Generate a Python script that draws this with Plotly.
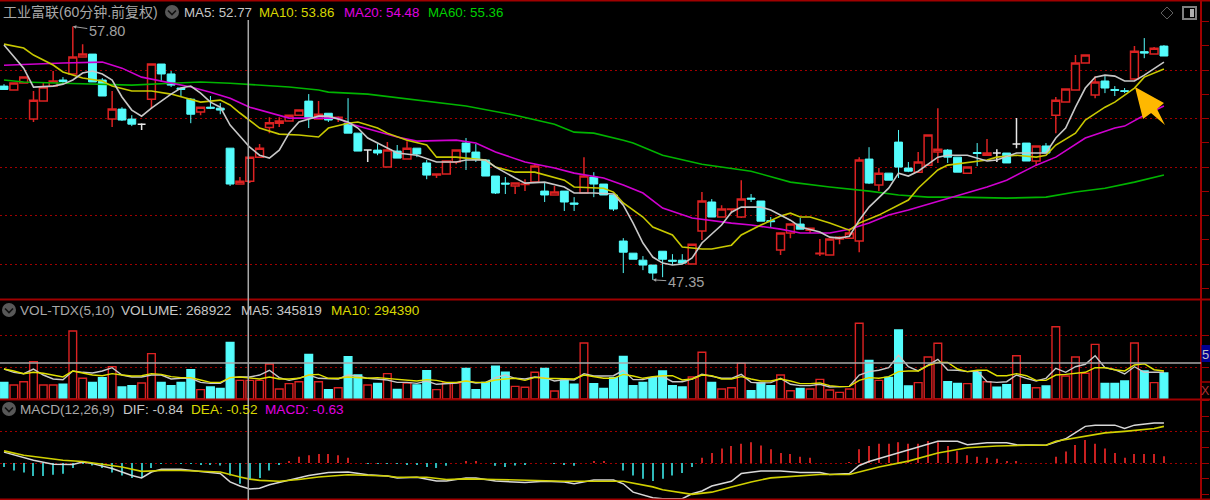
import plotly.graph_objects as go

# ---------- candles (bar index = position in list) ----------
opens = [55.34,55.18,55.47,53.98,54.72,55.34,55.59,55.84,56.54,56.66,
         55.59,53.98,54.39,53.98,53.77,54.80,56.25,55.84,55.26,54.80,
         54.27,54.47,54.43,52.78,51.30,51.42,52.41,53.63,53.81,53.90,
         54.14,54.72,53.98,54.22,54.02,53.81,53.40,52.70,52.70,52.00,
         52.66,52.33,52.78,52.17,51.67,51.71,52.21,52.99,52.62,52.29,
         51.63,51.34,51.22,51.28,51.38,51.01,50.85,51.01,50.52,50.93,
         51.59,51.30,50.85,48.95,48.45,48.16,47.96,48.53,48.16,48.16,
         48.00,49.36,50.56,49.94,50.25,49.94,50.72,50.60,49.79,48.58,
         49.28,49.65,49.40,48.43,48.37,49.03,49.07,48.95,52.33,51.26,
         51.75,53.03,51.96,51.79,52.08,52.62,52.70,52.41,51.75,52.60,
         52.49,52.58,52.58,52.95,52.99,52.25,52.87,54.14,54.68,55.18,
         56.29,54.97,55.55,55.20,55.15,55.63,56.76,56.66,56.99]
highs = [55.42,55.47,55.71,55.14,55.51,55.96,55.71,57.80,57.07,56.66,
         55.67,55.14,54.47,54.14,53.81,56.25,56.25,55.96,55.26,54.84,
         54.47,54.93,54.64,52.78,51.59,52.41,52.95,54.06,54.06,54.14,
         54.35,55.01,54.72,54.22,54.10,54.84,53.40,52.70,52.95,53.03,
         52.91,53.07,52.78,52.29,51.71,52.25,52.70,53.20,52.95,52.29,
         51.63,51.59,51.34,51.50,52.12,51.34,51.22,51.01,50.76,52.41,
         51.79,51.30,50.85,49.07,48.45,48.33,47.96,48.53,48.41,48.41,
         48.82,50.97,50.68,50.43,50.27,51.46,50.89,50.60,49.94,49.28,
         49.65,49.90,49.48,49.03,49.03,49.15,49.44,52.41,52.82,51.96,
         51.75,53.53,52.21,52.62,53.32,54.43,52.74,52.41,52.00,52.99,
         53.16,52.74,52.58,54.02,52.99,52.87,52.99,54.89,55.22,56.62,
         56.62,55.75,55.75,55.34,55.26,56.99,57.32,56.95,57.03]
lows = [55.18,55.18,55.47,53.86,54.72,55.34,55.42,55.84,56.54,55.51,
        54.93,53.65,53.90,53.69,53.53,54.39,55.51,55.30,54.89,53.81,
        54.14,54.39,54.18,51.22,51.30,51.34,52.41,53.40,53.65,53.90,
        54.14,53.61,53.98,53.86,53.86,53.40,52.66,52.21,52.49,52.00,
        52.37,52.33,52.41,51.50,51.55,51.71,52.12,51.88,52.21,51.63,
        50.89,50.89,50.89,51.01,51.38,50.56,50.85,50.19,50.19,50.93,
        50.76,50.85,50.19,47.63,48.20,47.75,47.35,47.46,47.96,48.00,
        48.00,48.99,49.94,49.94,50.10,49.90,50.56,49.77,49.53,48.37,
        49.07,49.44,49.28,48.33,48.37,48.82,49.07,48.49,51.30,51.01,
        51.46,51.55,51.79,51.79,52.08,52.17,52.17,51.79,51.75,52.04,
        52.49,52.21,52.17,52.78,52.25,52.04,52.58,53.40,54.68,55.18,
        56.29,54.84,55.05,54.93,55.05,55.59,56.49,56.66,56.58]
closes = [55.20,55.47,55.71,54.76,55.30,55.55,55.53,56.54,56.66,55.51,
          54.93,54.39,53.94,53.77,53.77,56.25,55.84,55.38,55.20,54.18,
          54.47,54.43,54.35,51.30,51.42,52.41,52.78,53.83,53.90,54.14,
          54.35,54.02,54.18,53.94,54.06,53.40,52.66,52.70,52.58,52.70,
          52.37,52.78,52.54,51.67,51.71,52.25,52.70,52.62,52.33,51.63,
          50.93,51.30,51.34,51.30,52.04,50.85,50.97,50.56,50.47,51.63,
          51.30,50.85,50.27,48.49,48.20,47.96,47.63,48.20,48.12,48.04,
          48.82,50.60,49.94,50.27,50.27,50.68,50.68,49.77,49.75,49.28,
          49.65,49.44,49.48,48.45,49.03,49.11,49.28,52.29,51.34,51.75,
          51.46,52.00,51.83,52.21,53.32,52.74,52.41,51.79,52.00,52.56,
          52.58,52.58,52.17,52.95,52.25,52.87,52.58,54.76,55.22,56.29,
          56.62,55.51,55.26,55.16,55.12,56.78,56.70,56.90,56.58]

# ---------- price moving averages: (bar index, value) read at knots ----------
ma5_idx = [0,2,3,5,6,7,8,9,10,11,12,13,14,15,16,17,18,19,20,21,22,23,25,26,27,28,29,30,32,33,35,36,37,39,40,42,44,46,47,49,50,52,53,55,57,58,60,62,63,64,65,66,67,68,69,70,71,73,74,75,77,78,80,81,83,84,85,86,87,88,90,91,92,93,95,96,98,100,101,103,105,106,107,108,109,110,111,112,113,114,115,116,118]
ma5_val = [57.03,56.08,55.30,55.34,55.42,55.59,55.88,55.96,55.84,55.59,54.89,54.35,54.10,54.43,54.72,55.01,55.26,55.34,55.05,54.68,54.47,53.73,52.82,52.49,52.37,52.70,53.40,53.86,54.10,54.10,53.86,53.61,53.20,52.78,52.58,52.49,52.21,52.21,52.29,52.29,52.00,51.55,51.34,51.38,51.18,50.93,50.93,50.89,50.43,49.69,48.87,48.29,48.04,47.96,48.00,48.25,48.87,49.61,50.14,50.35,50.35,50.23,49.81,49.53,49.32,49.11,49.07,49.15,49.81,50.35,51.13,51.75,51.63,51.83,52.41,52.49,52.49,52.25,52.29,52.58,52.58,52.58,53.20,53.61,54.47,55.26,55.71,55.79,55.75,55.55,55.55,55.79,56.33]
ma10_idx = [0,2,3,5,6,7,8,10,11,13,15,17,19,20,22,23,24,26,28,30,32,33,35,36,38,39,41,43,44,46,48,49,50,52,54,55,57,58,61,62,63,65,66,68,69,71,72,74,75,77,79,80,81,82,84,86,87,89,91,92,93,94,95,96,100,101,103,105,106,107,109,110,112,113,115,116,118]
ma10_val = [57.07,56.91,56.62,56.21,55.92,55.79,55.67,55.55,55.34,55.14,55.14,55.01,54.80,54.68,54.76,54.56,54.23,53.61,53.36,53.32,53.24,53.61,53.81,53.86,53.61,53.40,53.11,52.91,52.41,52.41,52.33,52.29,52.00,51.79,51.79,51.67,51.46,51.18,51.13,50.97,50.52,49.94,49.53,49.20,48.70,48.62,48.62,48.78,49.20,49.61,49.98,50.10,49.94,49.94,49.69,49.40,49.69,50.02,50.43,50.64,51.13,51.50,51.88,52.08,52.29,52.41,52.49,52.41,52.49,52.91,53.40,53.94,54.47,54.68,55.26,55.71,56.04]
ma20_idx = [0,3,6,10,12,14,17,19,21,23,25,27,29,32,34,35,37,40,42,46,48,50,53,56,58,61,63,65,67,70,74,76,79,81,84,86,88,90,92,93,96,98,100,102,105,107,110,113,114,116,118]
ma20_val = [56.20,56.25,56.29,56.33,56.08,55.71,55.46,55.30,55.09,54.84,54.47,54.23,54.02,54.02,54.02,53.81,53.57,53.24,53.07,53.11,52.99,52.62,52.21,51.96,51.75,51.55,51.26,50.93,50.31,49.90,49.69,49.61,49.44,49.28,49.28,49.44,49.69,50.02,50.23,50.35,50.68,50.93,51.18,51.46,52.08,52.41,53.20,53.61,53.69,54.14,54.52]
ma60_idx = [0,2,6,13,17,20,23,29,32,33,37,42,47,52,56,58,60,63,64,67,71,76,80,84,88,91,94,97,102,106,109,112,115,118]
ma60_val = [55.59,55.51,55.46,55.38,55.46,55.51,55.46,55.30,55.18,55.09,55.01,54.76,54.52,54.14,53.77,53.44,53.40,53.11,52.99,52.49,52.12,51.83,51.38,51.18,51.01,50.85,50.76,50.76,50.72,50.76,50.97,51.13,51.38,51.67]

# ---------- volume (thousands) ----------
volume = [172,145,179,386,145,145,152,703,214,172,221,334,124,138,166,469,172,138,172,303,
          97,124,110,586,193,193,193,362,103,159,179,462,179,97,117,438,248,145,162,262,
          100,166,145,293,97,166,166,317,97,172,338,276,131,121,276,317,83,197,152,579,
          159,110,221,441,138,172,221,290,138,124,228,483,172,103,117,369,86,166,138,248,
          86,110,103,203,93,69,103,783,400,193,224,714,134,169,434,576,179,162,159,276,
          179,121,148,448,148,117,134,748,238,434,266,565,162,162,186,579,290,169,269]
vol_kind = ("crrrrrcrrc" "crccrrcccc" "rcccrrrrrr" "rcrcrccrcr" "crccrrrccc"
            "ccrrrcrccr" "cccccccccc" "rrcrrrcccr" "rcrrrrrrcr" "cccrrrccrc"
            "rccrcrcrrr" "rrcccrcrc")
vol_ma5 = [310,276,262,310,248,207,200,290,276,269,290,324,248,228,228,248,248,207,214,214,
           172,162,162,221,228,228,248,297,221,193,214,248,214,214,207,248,238,214,207,197,
           172,172,162,186,152,159,166,186,166,172,221,248,214,207,228,221,186,200,197,262,
           238,238,241,297,200,200,228,234,179,179,207,255,231,214,214,255,172,166,169,214,
           152,138,138,152,124,124,131,248,283,297,324,455,334,290,352,410,300,297,283,290,
           179,172,179,248,214,186,214,317,276,334,359,448,324,303,259,334,276,276,276]
vol_ma10 = [310,290,262,276,266,248,228,290,266,248,241,262,248,238,241,262,255,231,221,221,
            197,172,172,221,228,221,207,228,207,207,214,248,255,214,214,228,221,214,221,214,
            207,193,186,200,193,172,172,186,172,172,197,207,214,193,224,214,214,207,207,248,
            231,214,214,255,238,214,231,241,241,197,207,248,241,207,207,231,207,186,186,207,
            186,159,159,166,138,128,131,193,221,214,231,283,290,290,345,379,379,310,283,297,
            297,241,241,262,241,193,193,248,255,262,276,324,324,303,290,352,365,303,290]

# ---------- MACD ----------
macd_hist = [-.13,-.24,-.31,-.42,-.42,-.38,-.35,-.16,-.02,-.08,-.16,-.31,-.40,-.48,-.48,-.16,-.03,0,-.02,-.02,
             -.04,-.04,-.08,-.40,-.67,-.53,-.48,-.24,-.04,.05,.20,.25,.29,.29,.25,.17,0,-.01,-.02,-.02,
             -.02,-.04,-.04,-.13,-.16,-.09,0,.05,.06,0,-.09,-.13,-.08,-.04,0,0,-.02,-.05,-.09,0,
             .04,.04,0,-.24,-.40,-.51,-.58,-.51,-.40,-.32,-.13,.17,.32,.47,.55,.62,.67,.56,.44,.32,
             .29,.20,.17,0,0,0,.02,.44,.55,.62,.62,.67,.62,.62,.71,.67,.55,.38,.25,.20,
             .17,.14,.05,.05,0,0,0,.20,.37,.58,.74,.62,.47,.32,.17,.29,.29,.29,.22]
dif_idx = [0,1,3,5,7,8,9,11,13,14,15,16,18,20,22,23,24,25,26,27,28,29,31,33,35,37,39,40,42,44,45,47,48,50,53,55,57,58,60,62,63,64,66,67,69,70,71,72,74,75,77,79,81,83,84,86,87,88,90,92,95,97,98,100,102,103,106,108,110,111,113,114,115,117,118]
dif_val = [.35,.27,.09,-.04,-.05,.03,-.02,-.18,-.40,-.48,-.29,-.20,-.20,-.27,-.34,-.61,-.74,-.84,-.81,-.70,-.63,-.56,-.40,-.31,-.29,-.38,-.42,-.48,-.46,-.58,-.58,-.48,-.48,-.58,-.63,-.59,-.61,-.67,-.55,-.55,-.67,-.94,-1.12,-1.15,-1.15,-.99,-.90,-.74,-.59,-.34,-.26,-.26,-.31,-.31,-.37,-.34,-.08,.05,.23,.41,.70,.70,.59,.65,.65,.59,.57,.78,1.18,1.22,1.22,1.11,1.22,1.29,1.29]
dea_idx = [0,2,4,6,8,10,12,14,16,18,20,22,24,25,26,28,30,32,35,37,39,40,43,45,47,50,54,57,61,63,66,67,70,72,74,76,78,81,83,86,89,92,95,98,101,104,106,107,110,112,114,117,118]
dea_val = [.39,.25,.17,.09,.05,-.04,-.13,-.27,-.24,-.24,-.26,-.29,-.45,-.52,-.56,-.59,-.53,-.45,-.38,-.40,-.42,-.46,-.46,-.53,-.51,-.53,-.56,-.59,-.59,-.59,-.77,-.86,-1.01,-.94,-.77,-.61,-.48,-.40,-.37,-.37,-.13,.06,.32,.49,.55,.57,.57,.70,.86,.97,1.02,1.11,1.18]

# ---------- texts ----------
title_text = "工业富联(60分钟.前复权)"
price_labels = [("MA5: 52.77", 182, "#c8c8c8"), ("MA10: 53.86", 257, "#d8d800"),
                ("MA20: 54.48", 342, "#e000e0"), ("MA60: 55.36", 426, "#00d000")]
vol_labels = [("VOL-TDX(5,10)", 18, "#a8a8a8"), ("VOLUME: 268922", 119, "#c8c8c8"),
              ("MA5: 345819", 239, "#c8c8c8"), ("MA10: 294390", 329, "#d8d800")]
macd_labels = [("MACD(12,26,9)", 18, "#a8a8a8"), ("DIF: -0.84", 121, "#c8c8c8"),
               ("DEA: -0.52", 189, "#d8d800"), ("MACD: -0.63", 263, "#e000e0")]

RED = "#dc2222"
CYAN = "#54fcfc"
DARK = "#a00000"
FONT = "Liberation Sans, Noto Sans CJK SC, sans-serif"
PW, PH = 1201.0, 500.0
fx = lambda px: px / PW
fy = lambda py: 1 - py / PH

n = len(closes)
idx = list(range(n))
flat = [i for i in idx if opens[i] == closes[i]]
move = [i for i in idx if opens[i] != closes[i]]
pick = lambda arr, ii: [arr[i] for i in ii]

fig = go.Figure()
fig.add_trace(go.Candlestick(
    x=move, open=pick(opens, move), high=pick(highs, move), low=pick(lows, move), close=pick(closes, move),
    increasing=dict(line=dict(color=RED, width=1.5), fillcolor="#000000"),
    decreasing=dict(line=dict(color=CYAN, width=1), fillcolor=CYAN),
    whiskerwidth=0, yaxis="y", showlegend=False))
fig.add_trace(go.Candlestick(
    x=flat, open=pick(opens, flat), high=pick(highs, flat), low=pick(lows, flat), close=pick(closes, flat),
    increasing=dict(line=dict(color="#e8e8e8", width=1.5), fillcolor="#e8e8e8"),
    decreasing=dict(line=dict(color="#e8e8e8", width=1.5), fillcolor="#e8e8e8"),
    whiskerwidth=0, yaxis="y", showlegend=False))
for xs, ys, col in [(ma60_idx, ma60_val, "#00b400"), (ma20_idx, ma20_val, "#d000d0"),
                    (ma10_idx, ma10_val, "#c8c800"), (ma5_idx, ma5_val, "#c8c8c8")]:
    fig.add_trace(go.Scatter(x=xs, y=ys, mode="lines", line=dict(color=col, width=1.6), yaxis="y", showlegend=False))

fig.add_trace(go.Bar(
    x=idx, y=volume, width=0.78, yaxis="y2", showlegend=False,
    marker=dict(color=[CYAN if k == "c" else "#000000" for k in vol_kind],
                line=dict(color=[CYAN if k == "c" else RED for k in vol_kind], width=1.4))))
fig.add_trace(go.Scatter(x=idx, y=vol_ma5, mode="lines", line=dict(color="#c8c8c8", width=1.4), yaxis="y2", showlegend=False))
fig.add_trace(go.Scatter(x=idx, y=vol_ma10, mode="lines", line=dict(color="#e0e000", width=1.4), yaxis="y2", showlegend=False))

fig.add_trace(go.Bar(
    x=idx, y=macd_hist, width=0.11, yaxis="y3", showlegend=False,
    marker=dict(color=["#c82020" if v > 0 else "#2fb8b8" for v in macd_hist], line=dict(width=0))))
fig.add_trace(go.Scatter(x=dif_idx, y=dif_val, mode="lines", line=dict(color="#d8d8d8", width=1.5), yaxis="y3", showlegend=False))
fig.add_trace(go.Scatter(x=dea_idx, y=dea_val, mode="lines", line=dict(color="#d0d000", width=1.6), yaxis="y3", showlegend=False))


def yax(dom_top, dom_bot, rng, grid, minor):
    return dict(domain=[fy(dom_bot), fy(dom_top)], range=rng, side="right", anchor="x",
                tickmode="array", tickvals=grid, showticklabels=False, ticks="outside", ticklen=7,
                tickcolor=DARK, tickwidth=1, showgrid=True, gridcolor="#a00000", griddash="2px,3px",
                gridwidth=1, zeroline=False, showline=False,
                minor=dict(tickmode="array", tickvals=minor, ticks="outside", ticklen=7, tickcolor=DARK,
                           tickwidth=1, showgrid=False))


shapes = []
for py in (0.5, 299.5, 399.5, 499.5):
    shapes.append(dict(type="line", xref="paper", yref="paper", x0=0, x1=fx(1210), y0=fy(py), y1=fy(py),
                       line=dict(color=DARK, width=2)))
shapes.append(dict(type="line", xref="paper", yref="paper", x0=1, x1=1, y0=0, y1=1, line=dict(color=DARK, width=2)))
# crosshair, tied to the axes
shapes.append(dict(type="line", xref="x", yref="paper", x0=24.85, x1=24.85, y0=fy(500), y1=fy(20),
                   line=dict(color="#a8a8a8", width=1.5)))
shapes.append(dict(type="line", xref="paper", yref="y2", x0=0, x1=1, y0=372, y1=372,
                   line=dict(color="#a8a8a8", width=1.5)))
# right side boxes
shapes.append(dict(type="rect", xref="paper", yref="paper", x0=fx(1201.5), x1=fx(1210), y0=fy(345), y1=fy(362),
                   fillcolor="#000090", line=dict(width=0)))
shapes.append(dict(type="line", xref="paper", yref="paper", x0=1, x1=fx(1210), y0=fy(382), y1=fy(382),
                   line=dict(color=DARK, width=1.5)))
# orange arrow
pts = [(1135, 87), (1164, 103), (1157, 109), (1165, 125), (1151, 113), (1143, 119)]
path = "M " + " L ".join(f"{fx(a):.5f},{fy(b):.5f}" for a, b in pts) + " Z"
shapes.append(dict(type="path", xref="paper", yref="paper", path=path, fillcolor="#ffb800", line=dict(width=0)))
# diamond and panel icon
dia = [(1167, 7), (1173, 13), (1167, 19), (1161, 13)]
shapes.append(dict(type="path", xref="paper", yref="paper",
                   path="M " + " L ".join(f"{fx(a):.5f},{fy(b):.5f}" for a, b in dia) + " Z",
                   line=dict(color="#606060", width=1)))
shapes.append(dict(type="rect", xref="paper", yref="paper", x0=fx(1183), x1=fx(1196), y0=fy(19), y1=fy(7),
                   line=dict(color="#808080", width=2)))
shapes.append(dict(type="rect", xref="paper", yref="paper", x0=fx(1190), x1=fx(1194), y0=fy(17), y1=fy(9),
                   fillcolor="#b0b0b0", line=dict(width=0)))
# chevron buttons
for cx, cy in [(172, 12), (9, 310), (9, 409)]:
    shapes.append(dict(type="circle", xref="paper", yref="paper", x0=fx(cx - 7), x1=fx(cx + 7),
                       y0=fy(cy + 7), y1=fy(cy - 7), fillcolor="#585858", line=dict(width=0)))
    shapes.append(dict(type="path", xref="paper", yref="paper",
                       path=f"M {fx(cx-4)},{fy(cy-1.5)} L {fx(cx)},{fy(cy+2.5)} L {fx(cx+4)},{fy(cy-1.5)}",
                       line=dict(color="#101010", width=1.6)))


def label(text, px, py, col, size=13.3):
    return dict(text=text, xref="paper", yref="paper", x=fx(px), y=fy(py), xanchor="left", yanchor="middle",
                showarrow=False, font=dict(family=FONT, size=size, color=col))


ann = [label(title_text, 1, 12, "#a8a8a8", 14)]
ann += [label(t, x, 12, c) for t, x, c in price_labels]
ann += [label(t, x, 310, c, 13.6) for t, x, c in vol_labels]
ann += [label(t, x, 409, c, 13.6) for t, x, c in macd_labels]
ann.append(label("5", 1199.5, 354, "#c0c0c0", 13))
ann.append(label("X", 1198.5, 391, "#b03030", 12.5))
for bar, val, txt, ax, ay in [(7, 57.80, "57.80", 34, 5), (66, 47.35, "47.35", 33, 2)]:
    ann.append(dict(text=txt, x=bar, y=val, xref="x", yref="y", ax=ax, ay=ay, axref="pixel", ayref="pixel",
                    showarrow=True, arrowhead=2, arrowsize=0.7, arrowwidth=1, arrowcolor="#a0a0a0",
                    font=dict(family=FONT, size=14.5, color="#a0a0a0")))

fig.update_layout(
    width=1210, height=500, margin=dict(l=0, r=9, t=0, b=0), autosize=False,
    paper_bgcolor="#000000", plot_bgcolor="#000000", barmode="overlay", showlegend=False,
    boxmode="overlay", boxgap=0.2, boxgroupgap=0,
    xaxis=dict(range=[-0.407, 121.77], visible=False, rangeslider=dict(visible=False), domain=[0, 1], anchor="y"),
    yaxis=yax(8, 299, [46.56, 58.56], [48, 50, 52, 54, 56], [47, 49, 51, 53, 55, 57, 58]),
    yaxis2=yax(300, 399, [0, 1024], [331, 662], []),
    yaxis3=yax(400, 499, [-1.16, 2.03], [0, 1], [-1, -.5, .5, 1.5, 2]),
    shapes=shapes, annotations=ann, hovermode=False)

fig.write_html("out.html", config=dict(displayModeBar=False),
               post_script="document.body.style.margin='0';document.documentElement.style.overflow='hidden';")
